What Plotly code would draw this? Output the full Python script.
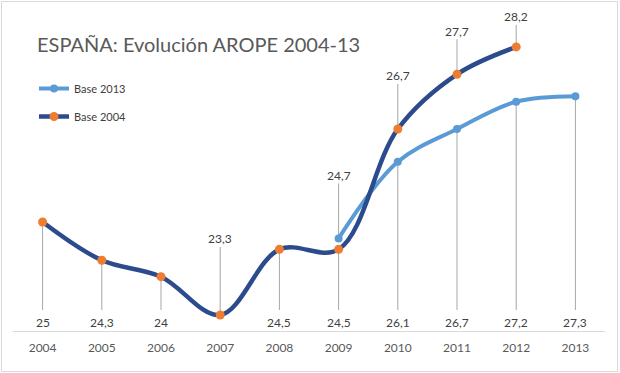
import plotly.graph_objects as go

# ---- data ----
years_2004 = [2004, 2005, 2006, 2007, 2008, 2009, 2010, 2011, 2012]
base_2004 = [25, 24.3, 24, 23.3, 24.5, 24.5, 26.7, 27.7, 28.2]
years_2013 = [2009, 2010, 2011, 2012, 2013]
base_2013 = [24.7, 26.1, 26.7, 27.2, 27.3]
x_ticks = [2004, 2005, 2006, 2007, 2008, 2009, 2010, 2011, 2012, 2013]

# label placement (pixels above point; None -> bottom row)
lab_off_2004 = [None, None, None, 76, None, None, 53, 43, 30]
lab_off_2013 = [63, None, None, None, None]

W, H = 620, 373
ML, MR, MT, MB = 13, 15, 0, 42
Y_RANGE = [23.007, 29.058]
X_RANGE = [2003.5, 2013.5]
plot_w = W - ML - MR
plot_h = H - MT - MB
ppu = plot_h / (Y_RANGE[1] - Y_RANGE[0])

C_DARK = "#2c4b8c"
C_LIGHT = "#5b9bd5"
C_ORANGE = "#ed7d31"
C_LEAD = "#a6a6a6"
C_TEXT = "#404040"
FONT = "Lato"

fig = go.Figure()
fig.add_trace(go.Scatter(
    x=years_2013, y=base_2013, name="Base 2013", mode="lines+markers",
    line=dict(color=C_LIGHT, width=4, shape="spline", smoothing=1),
    marker=dict(color=C_LIGHT, size=8), legendgroup="a"))
fig.add_trace(go.Scatter(
    x=years_2004, y=base_2004, name="Base 2004", mode="lines+markers",
    line=dict(color=C_DARK, width=4.5, shape="spline", smoothing=1),
    marker=dict(color=C_ORANGE, size=9), legendgroup="b"))

shapes = []
annots = []
bottom_line_end = Y_RANGE[0] + 21 / ppu

def fmt(v):
    return f"{v:g}".replace(".", ",")

for xs, ys, offs in [(years_2004, base_2004, lab_off_2004),
                     (years_2013, base_2013, lab_off_2013)]:
    for xv, yv, off in zip(xs, ys, offs):
        if off is None:
            shapes.append(dict(type="line", xref="x", yref="y", x0=xv, x1=xv,
                               y0=yv, y1=bottom_line_end, layer="below",
                               line=dict(color=C_LEAD, width=1)))
            annots.append(dict(x=xv, y=0, xref="x", yref="paper", yanchor="middle",
                               yshift=9, text=fmt(yv), showarrow=False,
                               font=dict(family=FONT, size=12, color=C_TEXT)))
        else:
            shapes.append(dict(type="line", xref="x", yref="y", x0=xv, x1=xv,
                               ysizemode="pixel", yanchor=yv, y0=0, y1=off - 8,
                               layer="below", line=dict(color=C_LEAD, width=1)))
            annots.append(dict(x=xv, y=yv, xref="x", yref="y", yanchor="middle",
                               yshift=off, text=fmt(yv), showarrow=False,
                               font=dict(family=FONT, size=12, color=C_TEXT)))

# chart border (pixel positions converted to paper coordinates)
def px_x(p):
    return (p - ML) / plot_w

def px_y(p):
    return (H - MB - p) / plot_h

shapes.append(dict(type="rect", xref="paper", yref="paper",
                   x0=px_x(1.5), x1=px_x(617.5), y0=px_y(371.5), y1=px_y(1.5),
                   line=dict(color="#d9d9d9", width=1), layer="below"))

fig.update_layout(
    width=W, height=H,
    margin=dict(l=ML, r=MR, t=MT, b=MB, autoexpand=False),
    paper_bgcolor="white", plot_bgcolor="white",
    title=dict(text="ESPAÑA: Evolución AROPE 2004-13", x=37 / W, xanchor="left",
               xref="container", yref="container", y=1 - 45 / H, yanchor="middle",
               font=dict(family=FONT, size=20, color="#595959")),
    legend=dict(xref="paper", yref="paper", x=px_x(34), y=px_y(74),
                xanchor="left", yanchor="top", bgcolor="rgba(0,0,0,0)",
                font=dict(family=FONT, size=11, color=C_TEXT),
                traceorder="grouped", tracegroupgap=9),
    xaxis=dict(range=X_RANGE, tickvals=x_ticks, ticktext=[str(t) for t in x_ticks],
               showgrid=False, zeroline=False, showline=True, linecolor="#d9d9d9",
               linewidth=1, ticks="", ticklabelstandoff=6,
               tickfont=dict(family=FONT, size=12, color="#595959")),
    yaxis=dict(range=Y_RANGE, visible=False, showgrid=False, zeroline=False),
    shapes=shapes, annotations=annots,
    font=dict(family=FONT),
)

fig.write_html("out.html")
